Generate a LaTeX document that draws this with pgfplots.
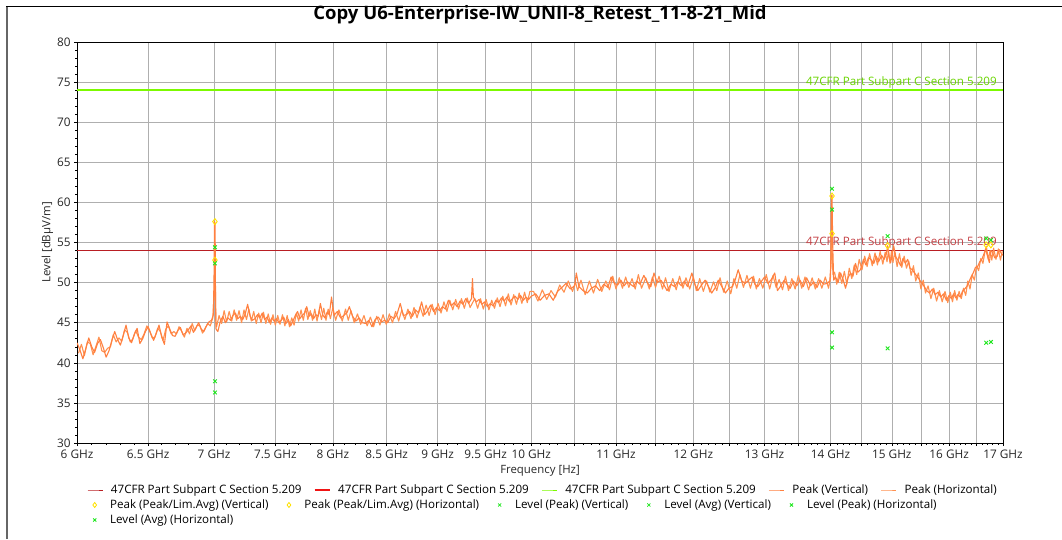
\documentclass[border=0pt]{standalone}
\usepackage{fontspec}
\setmainfont{Open Sans}
\usepackage{pgfplots}
\usepackage{pgfplotstable}
\pgfplotsset{compat=1.18}
\definecolor{limred}{RGB}{185,30,35}
\definecolor{limredB}{RGB}{240,20,20}
\definecolor{limgreen}{RGB}{124,250,0}
\definecolor{trace}{RGB}{255,128,64}
\definecolor{trace2}{RGB}{255,145,80}
\definecolor{mkyellow}{RGB}{255,225,0}
\definecolor{mkgreen}{RGB}{30,230,30}
\definecolor{gridc}{RGB}{175,175,175}

\pgfplotstableread{
f dB
6.00 42.5
6.02 41.6
6.04 40.5
6.06 41.8
6.08 43.1
6.10 42.0
6.12 41.3
6.14 42.4
6.16 42.9
6.18 41.9
6.20 40.7
6.22 41.5
6.24 42.8
6.26 43.9
6.28 42.9
6.30 42.2
6.32 43.4
6.34 44.7
6.36 43.1
6.38 42.5
6.40 43.6
6.42 44.3
6.44 42.4
6.46 43.0
6.48 43.9
6.50 44.5
6.52 43.6
6.54 42.8
6.56 43.7
6.58 44.7
6.60 43.2
6.62 42.3
6.64 45.1
6.66 44.2
6.68 43.4
6.70 43.3
6.72 44.0
6.74 44.4
6.76 43.5
6.78 43.7
6.80 44.1
6.82 44.6
6.84 43.8
6.86 44.4
6.88 45.0
6.90 44.2
6.92 43.9
6.94 44.6
6.96 45.1
6.98 45.3
6.995 46.0
7.000 50.5
7.004 57.6
7.008 57.4
7.012 48.0
7.016 44.2
7.03 43.9
7.05 45.2
7.07 45.8
7.09 45.0
7.11 45.6
7.13 45.3
7.15 45.9
7.17 46.2
7.19 45.5
7.21 45.8
7.23 45.4
7.25 46.1
7.27 47.3
7.29 45.8
7.31 45.3
7.33 45.5
7.35 46.0
7.37 45.6
7.39 46.2
7.41 45.4
7.43 45.7
7.45 45.0
7.47 45.6
7.49 45.2
7.51 45.5
7.53 45.0
7.55 45.3
7.57 45.7
7.59 44.9
7.61 45.4
7.63 44.6
7.65 45.2
7.67 45.9
7.69 46.4
7.71 45.5
7.73 45.9
7.75 46.2
7.77 47.0
7.79 45.8
7.81 46.1
7.83 45.5
7.85 46.0
7.87 45.8
7.89 47.4
7.91 46.0
7.93 45.6
7.95 46.3
7.97 46.0
7.99 48.2
8.01 45.9
8.04 46.4
8.07 45.6
8.10 45.9
8.13 46.3
8.15 47.0
8.18 45.8
8.21 45.2
8.24 45.6
8.27 45.0
8.30 44.9
8.33 45.3
8.36 44.5
8.39 45.4
8.42 45.7
8.45 45.1
8.48 45.3
8.51 45.0
8.54 45.8
8.57 45.5
8.60 46.1
8.63 47.4
8.66 45.9
8.69 46.0
8.72 46.4
8.75 45.8
8.78 46.6
8.81 46.2
8.84 47.6
8.87 46.0
8.90 46.5
8.93 47.2
8.96 46.4
8.99 46.9
9.02 46.5
9.05 47.0
9.08 46.7
9.11 47.8
9.14 47.1
9.17 47.5
9.20 47.0
9.23 47.7
9.26 47.3
9.29 48.0
9.32 47.4
9.35 48.0
9.36 50.5
9.37 48.2
9.40 47.6
9.43 47.9
9.46 47.3
9.49 47.6
9.52 47.0
9.55 47.4
9.58 47.1
9.61 47.8
9.64 47.5
9.67 48.1
9.70 47.7
9.73 48.2
9.76 47.6
9.79 48.0
9.82 48.3
9.85 47.9
9.88 48.4
9.91 47.8
9.94 48.2
9.97 47.9
10.00 48.3
10.05 48.6
10.10 47.8
10.15 48.4
10.20 48.6
10.25 47.8
10.30 48.9
10.35 49.4
10.40 49.9
10.45 49.2
10.50 49.6
10.52 51.2
10.55 49.5
10.60 49.0
10.65 48.7
10.70 49.3
10.75 49.6
10.80 49.0
10.85 49.8
10.90 49.4
10.94 50.7
10.98 49.9
11.02 49.7
11.06 50.3
11.10 49.6
11.14 50.1
11.18 49.8
11.22 49.5
11.26 50.2
11.30 49.8
11.35 50.9
11.40 49.9
11.44 49.5
11.48 51.2
11.52 50.0
11.57 50.3
11.61 49.7
11.65 49.0
11.70 49.8
11.75 49.5
11.79 50.1
11.84 49.6
11.88 50.2
11.92 49.5
11.98 51.2
12.02 49.8
12.06 49.0
12.11 49.7
12.16 50.3
12.20 49.6
12.25 48.7
12.30 49.4
12.34 50.3
12.39 49.5
12.44 48.7
12.49 49.3
12.54 49.5
12.58 50.4
12.62 51.6
12.67 50.2
12.72 49.9
12.77 50.3
12.82 50.7
12.86 49.8
12.90 49.5
12.95 50.1
13.00 50.7
13.05 49.9
13.10 50.4
13.15 51.2
13.19 49.0
13.24 49.6
13.29 50.3
13.33 49.8
13.38 49.3
13.43 50.2
13.48 49.6
13.53 50.3
13.58 49.5
13.63 50.6
13.69 49.6
13.74 50.1
13.79 49.4
13.84 50.3
13.89 49.8
13.95 49.9
13.99 50.2
14.005 52.0
14.015 60.8
14.025 60.9
14.035 55.0
14.05 50.3
14.08 50.7
14.12 50.0
14.16 51.2
14.20 50.4
14.24 49.3
14.28 50.6
14.32 51.2
14.36 50.8
14.40 52.4
14.44 51.3
14.48 51.6
14.53 52.9
14.57 52.2
14.61 53.1
14.65 52.9
14.70 52.4
14.74 53.3
14.78 52.6
14.83 53.4
14.87 52.9
14.91 53.6
14.93 54.6
14.96 53.0
14.98 52.5
15.01 53.5
15.03 54.6
15.07 53.2
15.11 52.7
15.15 52.1
15.19 53.0
15.23 52.4
15.27 52.9
15.31 51.8
15.35 51.6
15.39 51.2
15.43 50.8
15.48 50.3
15.52 49.9
15.56 49.5
15.60 49.0
15.65 48.7
15.70 49.2
15.75 48.5
15.80 48.8
15.85 48.2
15.90 48.6
15.95 47.8
16.00 48.4
16.04 48.0
16.08 48.6
16.12 48.1
16.16 48.5
16.20 48.2
16.24 48.9
16.28 49.2
16.32 49.5
16.36 50.1
16.40 50.7
16.44 51.2
16.48 51.9
16.52 52.0
16.56 52.6
16.60 52.9
16.64 53.6
16.67 54.2
16.70 53.4
16.74 52.5
16.77 54.0
16.80 53.8
16.84 53.1
16.89 53.3
16.93 54.1
16.97 53.6
17.00 53.4
}\peakvert

\pgfplotstableread{
f dB
6.01 41.2
6.03 42.3
6.05 40.9
6.07 42.6
6.09 42.4
6.11 41.0
6.13 42.1
6.15 43.2
6.17 41.5
6.19 41.3
6.21 41.8
6.23 42.0
6.25 43.5
6.27 42.6
6.29 43.1
6.31 42.7
6.33 44.1
6.35 43.8
6.37 42.6
6.39 43.0
6.41 44.0
6.43 43.2
6.45 42.9
6.47 43.6
6.49 44.6
6.51 44.0
6.53 43.1
6.55 43.2
6.57 44.3
6.59 43.9
6.61 42.8
6.63 44.2
6.65 44.6
6.67 43.6
6.69 43.9
6.71 43.6
6.73 44.5
6.75 43.9
6.77 43.2
6.79 44.3
6.81 43.6
6.83 44.9
6.85 44.0
6.87 44.7
6.89 44.6
6.91 43.7
6.93 44.3
6.95 44.9
6.97 44.6
6.99 45.6
7.002 49.0
7.006 52.8
7.010 50.5
7.014 45.0
7.02 44.5
7.04 45.9
7.06 44.9
7.08 46.5
7.10 45.1
7.12 46.4
7.14 45.2
7.16 46.6
7.18 45.3
7.20 46.5
7.22 45.0
7.24 46.6
7.26 45.4
7.28 46.7
7.30 45.2
7.32 46.4
7.34 44.9
7.36 46.2
7.38 45.0
7.40 46.3
7.42 44.9
7.44 46.1
7.46 44.8
7.48 46.0
7.50 44.7
7.52 45.9
7.54 44.8
7.56 46.0
7.58 44.6
7.60 45.9
7.62 44.5
7.64 45.6
7.66 44.7
7.68 46.2
7.70 45.2
7.72 46.6
7.74 45.3
7.76 46.8
7.78 45.4
7.80 46.5
7.82 45.3
7.84 46.7
7.86 45.2
7.88 46.6
7.90 45.4
7.92 46.8
7.94 45.3
7.96 46.7
7.98 45.5
8.00 46.9
8.025 45.3
8.055 46.6
8.085 45.2
8.115 46.7
8.14 45.3
8.165 46.5
8.195 45.0
8.225 46.1
8.255 44.8
8.285 45.9
8.315 44.6
8.345 45.7
8.375 44.5
8.405 45.8
8.435 44.7
8.465 46.0
8.495 44.8
8.525 46.1
8.555 45.0
8.585 46.4
8.615 45.2
8.645 46.6
8.675 45.4
8.705 46.7
8.735 45.5
8.765 46.9
8.795 45.6
8.825 47.0
8.855 45.8
8.885 47.2
8.915 45.9
8.945 47.3
8.975 46.0
9.005 47.4
9.035 46.2
9.065 47.6
9.095 46.4
9.125 47.8
9.155 46.6
9.185 47.9
9.215 46.7
9.245 48.0
9.275 46.8
9.305 48.1
9.335 46.9
9.385 48.0
9.415 46.8
9.445 48.0
9.475 46.7
9.505 47.9
9.535 46.6
9.565 47.8
9.595 46.8
9.625 48.1
9.655 47.0
9.685 48.3
9.715 47.1
9.745 48.6
9.775 47.2
9.805 48.5
9.835 47.3
9.865 48.7
9.895 47.4
9.925 48.8
9.955 47.5
9.985 48.9
10.025 48.9
10.075 47.7
10.125 49.1
10.175 47.9
10.225 49.0
10.275 48.2
10.325 49.7
10.375 48.8
10.425 50.2
10.475 48.9
10.51 50.1
10.535 49.0
10.575 50.3
10.625 48.5
10.675 50.2
10.725 48.7
10.775 50.4
10.825 48.9
10.875 50.2
10.92 49.1
10.96 50.8
11.00 49.2
11.04 50.6
11.08 49.3
11.12 50.7
11.16 49.4
11.20 50.5
11.24 49.2
11.28 51.0
11.32 49.3
11.375 50.6
11.42 49.2
11.46 50.7
11.50 49.4
11.545 50.8
11.59 49.2
11.63 50.6
11.675 48.9
11.725 50.5
11.77 49.1
11.815 50.8
11.86 49.3
11.90 50.6
11.95 49.2
12.00 50.7
12.04 49.0
12.085 50.5
12.135 48.9
12.18 50.2
12.225 48.8
12.275 50.1
12.32 49.0
12.365 50.6
12.415 48.8
12.465 50.2
12.515 48.6
12.56 50.5
12.60 49.3
12.645 51.0
12.695 49.4
12.745 50.9
12.795 49.3
12.84 50.8
12.88 49.2
12.925 50.5
12.975 49.3
13.025 51.0
13.075 49.2
13.125 50.9
13.17 49.4
13.215 50.4
13.265 49.1
13.31 50.8
13.355 49.0
13.405 50.5
13.455 49.2
13.505 50.9
13.555 49.3
13.605 50.7
13.66 49.1
13.715 50.6
13.765 49.2
13.815 50.5
13.865 49.3
13.92 50.7
13.97 49.3
14.00 50.6
14.01 53.5
14.02 56.1
14.03 53.0
14.04 51.0
14.065 51.3
14.10 49.8
14.14 51.3
14.18 49.9
14.22 51.4
14.26 49.8
14.30 51.8
14.34 50.5
14.38 52.2
14.42 51.0
14.46 52.9
14.505 51.6
14.55 53.3
14.59 52.0
14.63 53.6
14.675 52.1
14.72 53.7
14.76 52.2
14.805 53.9
14.85 52.3
14.89 53.8
14.92 52.6
14.945 54.0
14.97 52.4
14.995 53.9
15.02 52.5
15.05 53.8
15.09 52.0
15.13 53.6
15.17 51.9
15.21 53.3
15.25 51.8
15.29 52.7
15.33 50.9
15.37 52.1
15.41 50.2
15.455 51.2
15.50 49.2
15.54 50.3
15.58 48.7
15.625 49.6
15.675 48.0
15.725 49.3
15.775 47.7
15.825 49.0
15.875 47.6
15.925 48.9
15.975 47.5
16.02 48.8
16.06 47.6
16.10 49.0
16.14 47.8
16.18 48.9
16.22 48.0
16.26 49.3
16.30 48.4
16.34 50.2
16.38 49.2
16.42 51.0
16.46 50.3
16.50 52.1
16.54 51.5
16.58 53.0
16.62 52.4
16.655 53.8
16.685 54.5
16.72 52.9
16.755 54.0
16.785 52.8
16.82 54.3
16.865 52.9
16.91 54.2
16.95 52.8
16.985 53.9
}\peakhor

\pgfplotsset{
  lgd/.style={
    hide axis, scale only axis, width=10pt, height=10pt,
    xmin=0, xmax=1, ymin=0, ymax=1,
    anchor=south west,
    legend columns=-1,
    legend style={draw=none, fill=none, at={(0,0)}, anchor=west,
      font=\fontsize{11.6}{13}\selectfont, inner sep=0pt,
      /tikz/every odd column/.append style={column sep=6pt},
      /tikz/every even column/.append style={column sep=#1}},
    legend image code/.code={\path[draw=none, fill=none] (0pt,-3pt) rectangle (15pt,3pt); \draw[mark repeat=2,mark phase=2,##1] plot coordinates {(0pt,0pt) (7.5pt,0pt) (15pt,0pt)};},
  },
}

\begin{document}
\begin{tikzpicture}
\useasboundingbox (0pt,0pt) rectangle (1062pt,539pt);
\draw[line width=2pt, black!60] (7pt,0pt) -- (7pt,533pt);
\draw[line width=0.8pt, black] (6pt,533pt) -- (1062pt,533pt);
\node[font=\fontsize{18.5}{22}\selectfont\bfseries, anchor=base] at (540pt,519pt) {Copy U6-Enterprise-IW\_UNII-8\_Retest\_11-8-21\_Mid};

\begin{axis}[
  at={(77pt,96pt)}, anchor=south west, scale only axis,
  width=926pt, height=401pt,
  xmode=log, xmin=6, xmax=17, ymin=30, ymax=80,
  xtick={6,6.5,7,7.5,8,8.5,9,9.5,10,10.5,11,11.5,12,12.5,13,13.5,14,14.5,15,15.5,16,16.5,17},
  xticklabels={6 GHz,6.5 GHz,7 GHz,7.5 GHz,8 GHz,8.5 GHz,9 GHz,9.5 GHz,10 GHz,,11 GHz,,12 GHz,,13 GHz,,14 GHz,,15 GHz,,16 GHz,,17 GHz},
  minor xtick={6.1,6.2,6.3,6.4,6.6,6.7,6.8,6.9,7.1,7.2,7.3,7.4,7.6,7.7,7.8,7.9,8.1,8.2,8.3,8.4,8.6,8.7,8.8,8.9,9.1,9.2,9.3,9.4,9.6,9.7,9.8,9.9,10.1,10.2,10.3,10.4,10.6,10.7,10.8,10.9,11.1,11.2,11.3,11.4,11.6,11.7,11.8,11.9,12.1,12.2,12.3,12.4,12.6,12.7,12.8,12.9,13.1,13.2,13.3,13.4,13.6,13.7,13.8,13.9,14.1,14.2,14.3,14.4,14.6,14.7,14.8,14.9,15.1,15.2,15.3,15.4,15.6,15.7,15.8,15.9,16.1,16.2,16.3,16.4,16.6,16.7,16.8,16.9},
  ytick={30,35,40,45,50,55,60,65,70,75,80},
  minor y tick num=4,
  xmajorgrids, ymajorgrids,
  major grid style={gridc, line width=0.6pt},
  tick align=outside, xtick pos=bottom, ytick pos=left,
  major tick length=3pt, minor tick length=2pt,
  tick style={black, line width=0.5pt},
  axis line style={black, line width=0.9pt},
  tick label style={font=\fontsize{11.8}{13}\selectfont, text=black!85},
  /pgf/number format/assume math mode=true,
  xlabel={Frequency [Hz]}, ylabel={Level [dBµV/m]},
  label style={font=\fontsize{11.4}{13}\selectfont, text=black!85},
  xlabel style={yshift=0pt},
  ylabel style={yshift=-3pt},
]
\addplot[limgreen, line width=1.3pt] coordinates {(6,74) (17,74)};
\addplot[limred, line width=1.1pt] coordinates {(6,54) (17,54)};
\node[anchor=south east, inner sep=1pt, text=limgreen!85!black, font=\fontsize{11.6}{13}\selectfont] at (axis cs:16.9,74.1) {47CFR Part Subpart C Section 5.209};
\node[anchor=south east, inner sep=1pt, text=limred!85, font=\fontsize{11.6}{13}\selectfont] at (axis cs:16.9,54.1) {47CFR Part Subpart C Section 5.209};
\addplot[trace2, line width=1.1pt, line join=round] table[x=f, y=dB] {\peakhor};
\addplot[trace, line width=1.1pt, line join=round] table[x=f, y=dB] {\peakvert};
\addplot[only marks, mark=diamond, mark size=3pt, mkyellow, line width=0.9pt] coordinates {(7.007,57.6) (14.025,60.8) (14.93,54.6) (16.68,54.7)};
\addplot[only marks, mark=diamond, mark size=3pt, mkyellow, line width=0.9pt] coordinates {(7.007,52.8) (14.025,56.1) (16.77,54.7)};
\addplot[only marks, mark=x, mark size=2.6pt, mkgreen, line width=0.9pt] coordinates {(7.007,54.4) (14.025,61.7) (14.93,55.8)};
\addplot[only marks, mark=x, mark size=2.6pt, mkgreen, line width=0.9pt] coordinates {(7.007,37.7) (14.025,43.8) (14.93,41.8)};
\addplot[only marks, mark=x, mark size=2.6pt, mkgreen, line width=0.9pt] coordinates {(7.007,52.4) (14.025,59.1) (16.68,55.5) (16.77,55.3)};
\addplot[only marks, mark=x, mark size=2.6pt, mkgreen, line width=0.9pt] coordinates {(7.007,36.3) (14.025,41.9) (16.68,42.5) (16.77,42.6)};
\end{axis}

\begin{axis}[lgd=10.5pt, at={(87pt,49pt)}]
\addlegendimage{limred, line width=0.8pt}
\addlegendentry{47CFR Part Subpart C Section 5.209}
\addlegendimage{limredB, line width=1.2pt}
\addlegendentry{47CFR Part Subpart C Section 5.209}
\addlegendimage{limgreen, line width=1pt}
\addlegendentry{47CFR Part Subpart C Section 5.209}
\addlegendimage{trace, line width=1pt}
\addlegendentry{Peak (Vertical)}
\addlegendimage{trace2, line width=1pt}
\addlegendentry{Peak (Horizontal)}
\end{axis}
\begin{axis}[lgd=11pt, at={(87pt,34pt)}]
\addlegendimage{only marks, mark=diamond, mark size=2.5pt, mkyellow, line width=0.8pt}
\addlegendentry{Peak (Peak/Lim.Avg) (Vertical)}
\addlegendimage{only marks, mark=diamond, mark size=2.5pt, mkyellow, line width=0.8pt}
\addlegendentry{Peak (Peak/Lim.Avg) (Horizontal)}
\addlegendimage{only marks, mark=x, mark size=2.2pt, mkgreen, line width=0.8pt}
\addlegendentry{Level (Peak) (Vertical)}
\addlegendimage{only marks, mark=x, mark size=2.2pt, mkgreen, line width=0.8pt}
\addlegendentry{Level (Avg) (Vertical)}
\addlegendimage{only marks, mark=x, mark size=2.2pt, mkgreen, line width=0.8pt}
\addlegendentry{Level (Peak) (Horizontal)}
\end{axis}
\begin{axis}[lgd=11pt, at={(87pt,19pt)}]
\addlegendimage{only marks, mark=x, mark size=2.2pt, mkgreen, line width=0.8pt}
\addlegendentry{Level (Avg) (Horizontal)}
\end{axis}
\end{tikzpicture}
\end{document}
